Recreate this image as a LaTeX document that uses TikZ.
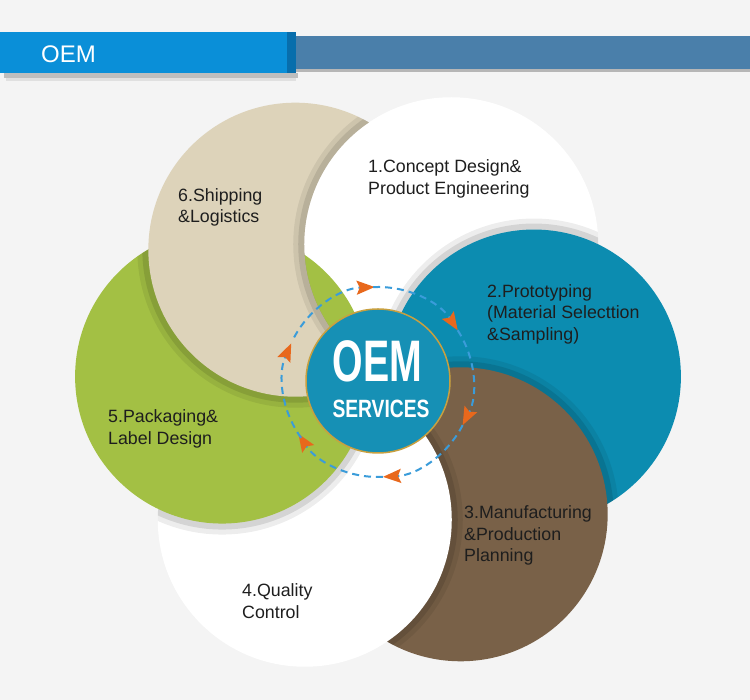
\documentclass[tikz,border=0pt]{standalone}
\usepackage{fontspec}
\setmainfont{Liberation Sans}
\newfontfamily\hubbig[FakeStretch=0.67]{Liberation Sans Bold}
\newfontfamily\hubsmall[FakeStretch=0.77]{Liberation Sans Bold}
\usetikzlibrary{arrows.meta}
\definecolor{Pale}{RGB}{244,244,244}
\definecolor{Tab}{RGB}{10,143,216}
\definecolor{TabEdge}{RGB}{8,110,172}
\definecolor{Bar}{RGB}{74,127,170}
\definecolor{Sand}{RGB}{221,211,186}
\definecolor{Leaf}{RGB}{163,192,68}
\definecolor{Sea}{RGB}{12,140,176}
\definecolor{Bark}{RGB}{121,97,72}
\definecolor{Hub}{RGB}{22,144,181}
\definecolor{Gold}{RGB}{200,160,64}
\definecolor{Dash}{RGB}{58,156,218}
\definecolor{Tip}{RGB}{232,104,28}
\definecolor{Ink}{RGB}{30,30,30}
\pgfdeclareradialshading{pearlglow}{\pgfpoint{0bp}{0bp}}{color(0bp)=(white); color(30bp)=(white); color(50bp)=(black!9)}
\def\R{147}
\newcommand\rimshade[1]{\fill[black,opacity=.07] (#1) circle[radius=\R+11];
  \fill[black,opacity=.10] (#1) circle[radius=\R+6];}
% clip away the inside of one circle (needs even odd rule)
\newcommand\cutout[1]{\clip (#1) circle[radius=\R] (-10,-10) rectangle (760,710);}

\begin{document}
\begin{tikzpicture}[x=1pt,y=1pt,
    lbl/.style={anchor=west, align=left, inner sep=0pt, text=Ink, font=\fontsize{17.8}{21.5}\selectfont},
    pearl/.style={shade, shading=pearlglow},
    sea/.style={fill=Sea}, bark/.style={fill=Bark},
    leaf/.style={fill=Leaf}, sand/.style={fill=Sand},
    ringarc/.style={Dash, line width=2pt, dash pattern=on 7pt off 5pt,
      -{Stealth[length=18pt,width=14pt,inset=3pt,color=Tip]}}]
  \useasboundingbox (0,0) rectangle (750,700);
  \fill[Pale] (0,0) rectangle (750,700);
  % header
  \fill[black,opacity=.22] (4,622) rectangle (298,627);
  \fill[black,opacity=.08] (6,619) rectangle (296,622);
  \fill[black,opacity=.25] (296,628) rectangle (750,631);
  \fill[Bar] (296,631) rectangle (750,664);
  \fill[Tab] (0,627) rectangle (296,668);
  \fill[TabEdge] (287,627) rectangle (296,668);
  \node[anchor=base west, text=white, inner sep=0pt, font=\fontsize{24}{24}\selectfont] (tabtext) at (41,637) {OEM};
  % circle centres
  \coordinate (mid) at (378,318);
  \foreach \k/\a in {1/62,2/2,3/-58,4/-118,5/178,6/122}
    \path (mid) ++(\a:156) coordinate (c\k);
  % circles 1 to 5, each one over the one before
  \path[pearl] (c1) circle[radius=\R];
  \foreach \k/\p/\sty in {2/1/sea,3/2/bark,4/3/pearl,5/4/leaf}{
    \begin{scope}
      \clip (c\p) circle[radius=\R];
      \rimshade{c\k}
    \end{scope}
    \path[\sty] (c\k) circle[radius=\R];
  }
  % circle 6 goes under 1 and 2
  \begin{scope}[even odd rule]
    \cutout{c1}
    \cutout{c2}
    \begin{scope}
      \clip (c5) circle[radius=\R];
      \rimshade{c6}
    \end{scope}
    \path[sand] (c6) circle[radius=\R];
    \clip (c6) circle[radius=\R];
    \rimshade{c1}
  \end{scope}
  % dashed ring
  \foreach \a in {92,33,-27,-87,-147,156}
    \draw[ringarc] (mid) ++(\a+60:95) arc[start angle=\a+60, end angle=\a, radius=95];
  \node[circle, minimum size=144pt, inner sep=0pt, fill=Hub, draw=Gold, line width=1.5pt] (hub) at (378,319) {};
  \node[anchor=base, inner sep=0pt, text=white, font=\hubbig\fontsize{58.6}{58.6}\selectfont] (oem) at ([xshift=-0.5pt,yshift=-1pt]hub.center) {OEM};
  \node[anchor=base, inner sep=0pt, text=white, font=\hubsmall\fontsize{25}{25}\selectfont] (svc) at ([xshift=3pt,yshift=-37pt]hub.center) {SERVICES};
  % labels
  \node[lbl] (t1) at (368,521) {1.Concept Design\&\\Product Engineering};
  \node[lbl] (t2) at (487,386) {2.Prototyping\\(Material Selecttion\\\&Sampling)};
  \node[lbl] (t3) at (464,164.5) {3.Manufacturing\\\&Production\\Planning};
  \node[lbl] (t4) at (242,99) {4.Quality\\Control};
  \node[lbl] (t5) at (108,271) {5.Packaging\&\\Label Design};
  \node[lbl] (t6) at (178,492.5) {6.Shipping\\\&Logistics};
\end{tikzpicture}
\end{document}
